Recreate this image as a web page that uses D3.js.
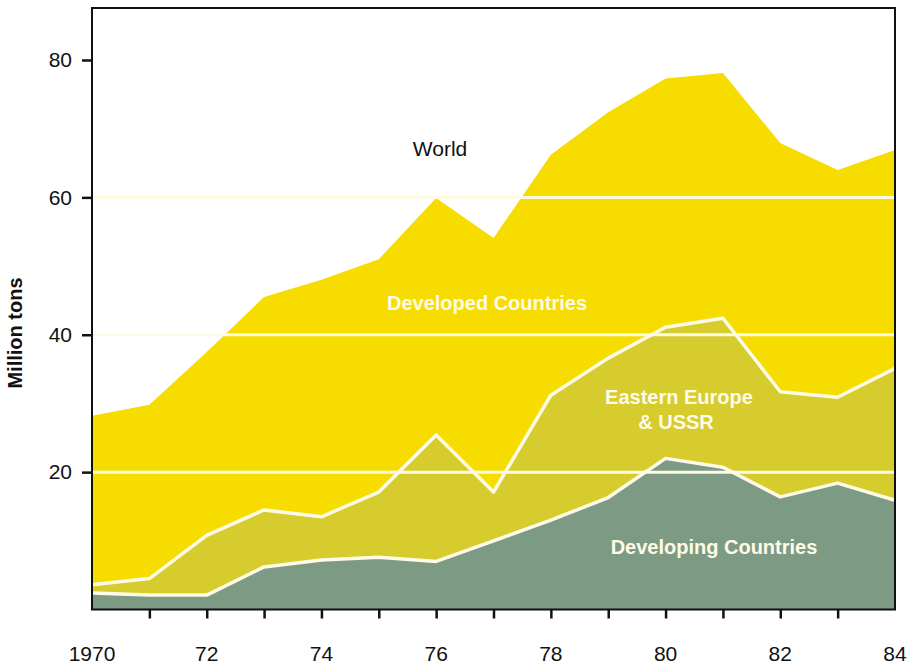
<!DOCTYPE html>
<html><head><meta charset="utf-8">
<script src="https://cdn.jsdelivr.net/npm/d3@7"></script>
<style>body{margin:0;background:#fff}svg{display:block}</style>
</head><body>
<script>
const years = [1970,1971,1972,1973,1974,1975,1976,1977,1978,1979,1980,1981,1982,1983,1984];
const world = [28.2,29.8,37.5,45.5,48.0,51.0,59.9,54.1,66.2,72.4,77.3,78.1,67.9,64.0,66.9];
const easternTop = [3.6,4.5,10.8,14.5,13.5,17.1,25.4,17.1,31.2,36.6,41.1,42.4,31.7,30.9,35.1];
const developing = [2.4,2.1,2.1,6.2,7.2,7.6,7.0,10.0,13.0,16.3,22.0,20.7,16.4,18.4,15.9];
const yTicks = [20,40,60,80];
const xLabelYears = [1970,1972,1974,1976,1978,1980,1982,1984];
const xLabelText = ["1970","72","74","76","78","80","82","84"];

const W=920,H=667;
const svg=d3.select("body").append("svg").attr("width",W).attr("height",H);
const x=d3.scaleLinear().domain([1970,1984]).range([92,895]);
const y=d3.scaleLinear().domain([0,80]).range([609.5,60]);
const font="Liberation Sans, Arial, sans-serif";

const area=(top,bot)=>d3.area().x((d,i)=>x(years[i])).y0((d,i)=>bot?y(bot[i]):y(0)).y1((d,i)=>y(top[i]));
const line=(arr)=>d3.line().x((d,i)=>x(years[i])).y((d,i)=>y(arr[i]));

svg.append("path").attr("d",area(world)(years)).attr("fill","#f7dc00");
svg.append("path").attr("d",area(easternTop)(years)).attr("fill","#d6cc2e");
svg.append("path").attr("d",area(developing)(years)).attr("fill","#7d9a84");

// gridlines
svg.selectAll(".grid").data([20,40,60]).enter().append("line")
 .attr("x1",x(1970)).attr("x2",x(1984)).attr("y1",d=>y(d)).attr("y2",d=>y(d))
 .attr("stroke","#fffbe0").attr("stroke-width",3);

svg.append("path").attr("d",line(easternTop)(years)).attr("fill","none").attr("stroke","#fffbe6").attr("stroke-width",3.5).attr("stroke-linejoin","round");
svg.append("path").attr("d",line(developing)(years)).attr("fill","none").attr("stroke","#fffbe6").attr("stroke-width",3.5).attr("stroke-linejoin","round");

// frame
svg.append("rect").attr("x",92).attr("y",8).attr("width",803).attr("height",601.5)
 .attr("fill","none").attr("stroke","#111").attr("stroke-width",2);

// axes
const yAxis=d3.axisLeft(y).tickValues(yTicks).tickSize(10).tickPadding(10);
const gy=svg.append("g").attr("transform","translate(92,0)").call(yAxis);
gy.select(".domain").remove();
gy.selectAll("line").attr("stroke","#111").attr("stroke-width",2.5);
gy.selectAll("text").attr("font-family",font).attr("font-size",21).attr("fill","#111");

const xAxis=d3.axisBottom(x).tickValues(years.slice(1,14)).tickSize(9).tickFormat("");
const gx=svg.append("g").attr("transform","translate(0,609.5)").call(xAxis);
gx.select(".domain").remove();
gx.selectAll("line").attr("stroke","#111").attr("stroke-width",2.5);

svg.selectAll(".xl").data(xLabelYears).enter().append("text")
 .attr("x",d=>x(d)).attr("y",661).attr("text-anchor","middle")
 .attr("font-family",font).attr("font-size",21).attr("fill","#111")
 .text((d,i)=>xLabelText[i]);

svg.append("text").attr("transform","translate(22,333) rotate(-90)")
 .attr("text-anchor","middle").attr("font-family",font).attr("font-weight","bold")
 .attr("font-size",20).attr("fill","#111").text("Million tons");

const lab=(t,cx,cy,col,bold,size)=>svg.append("text").attr("x",cx).attr("y",cy)
 .attr("text-anchor","middle").attr("font-family",font).attr("font-weight",bold?"bold":"normal")
 .attr("font-size",size).attr("fill",col).text(t);
lab("World",440,156,"#111",false,21);
lab("Developed Countries",487,310,"#fffbe6",true,20);
lab("Eastern Europe",679,404,"#fffbe6",true,20);
lab("& USSR",676,429,"#fffbe6",true,20);
lab("Developing Countries",714,554,"#fffbe6",true,20);
</script>
</body></html>
